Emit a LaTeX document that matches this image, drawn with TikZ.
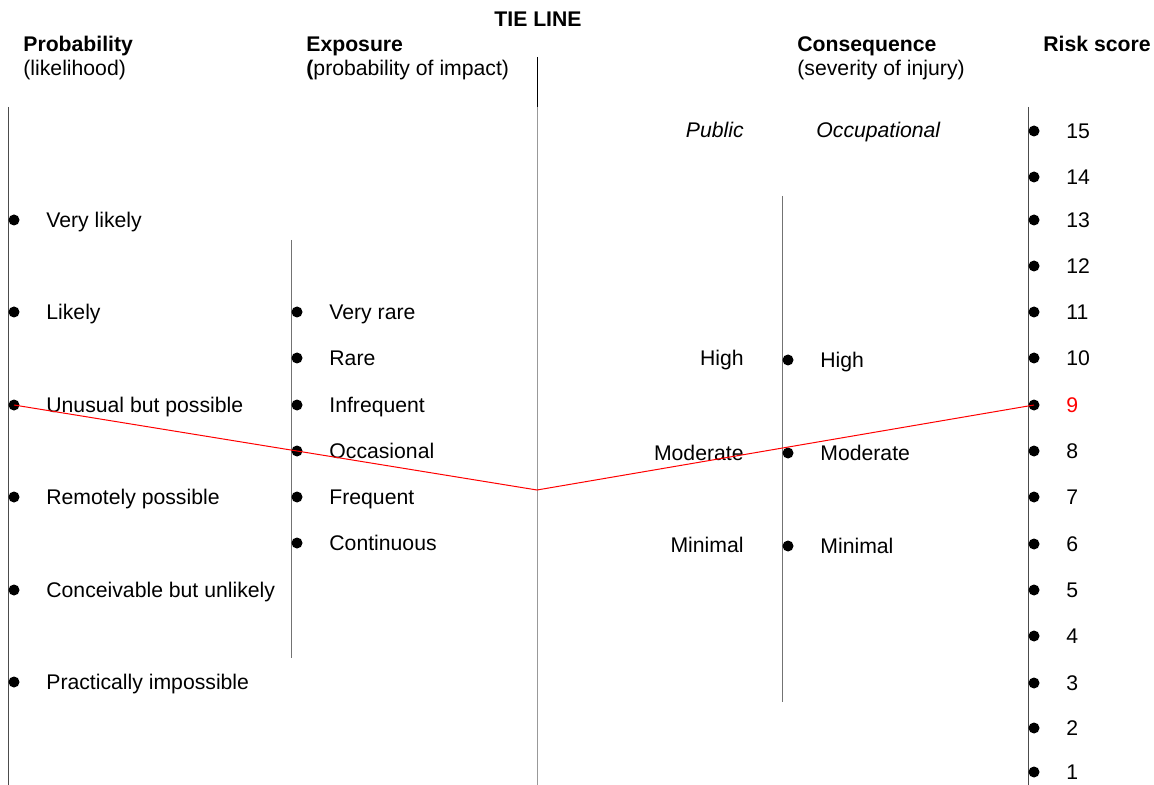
\documentclass[tikz,border=0pt]{standalone}
\usepackage{fontspec}
\setmainfont{Liberation Sans}
\usepackage{tikz}

\begin{document}
\begin{tikzpicture}[x=0.5pt, y=-0.5pt,
  every node/.style={font=\fontsize{10.6}{12.7}\selectfont, inner sep=0pt},
  lbl/.style={anchor=west, text height=7.6pt, text depth=0pt},
  rlbl/.style={anchor=east, text height=7.6pt, text depth=0pt},
  head/.style={anchor=base west, font=\fontsize{10.6}{12.7}\selectfont\bfseries},
  sub/.style={anchor=base west},
  dot/.style={circle, fill=black, inner sep=0pt, minimum size=5.5pt},
  axis/.style={draw=black!70, line width=0.5pt},
  faint/.style={draw=black!55, line width=0.5pt},
  tie/.style={draw=red, line width=0.5pt}]
\useasboundingbox (0,0) rectangle (1154,785);

% headings
\node[head, anchor=base] (tiehead) at (538,27) {TIE LINE};
\node[head] (probhead) at (23,52) {Probability};
\node[sub] (probsub) at (23,76) {(likelihood)};
\node[head] (exphead) at (306,52) {Exposure};
\node[sub] (expsub) at (306,76) {\textbf{(}probability of impact)};
\node[head] (conhead) at (797,52) {Consequence};
\node[sub] (consub) at (797,76) {(severity of injury)};
\node[head] (riskhead) at (1043,52) {Risk score};

% scales
\draw[axis] (8,107) -- (8,785);
\draw[faint] (291,240) -- (291,658);
\draw[black, line width=0.5pt] (537,57) -- (537,107);
\draw[draw=black!40, line width=0.5pt] (537,107) -- (537,785);
\draw[faint] (782,196) -- (782,702);
\draw[axis] (1028,107) -- (1028,785);

% probability
\node[dot] (vlikely) at (14,220) {};
\node[lbl] at (46,220) {Very likely};
\node[dot] (likely) at (14,312) {};
\node[lbl] at (46,312) {Likely};
\node[dot] (unusual) at (14,405) {};
\node[lbl] at (46,405) {Unusual but possible};
\node[dot] (remote) at (14,497) {};
\node[lbl] at (46,497) {Remotely possible};
\node[dot] (conceiv) at (14,590) {};
\node[lbl] at (46,590) {Conceivable but unlikely};
\node[dot] (practic) at (14,682) {};
\node[lbl] at (46,682) {Practically impossible};

% exposure
\node[dot] (vrare) at (297,312) {};
\node[lbl] at (329,312) {Very rare};
\node[dot] (rare) at (297,358) {};
\node[lbl] at (329,358) {Rare};
\node[dot] (infreq) at (297,405) {};
\node[lbl] at (329,405) {Infrequent};
\node[dot] (occas) at (297,451) {};
\node[lbl] at (329,451) {Occasional};
\node[dot] (freq) at (297,497) {};
\node[lbl] at (329,497) {Frequent};
\node[dot] (contin) at (297,543) {};
\node[lbl] at (329,543) {Continuous};

% consequence
\node[rlbl, font=\fontsize{10.6}{12.7}\selectfont\itshape] at (744,130) {Public};
\node[lbl, font=\fontsize{10.6}{12.7}\selectfont\itshape] at (816,130) {Occupational};
\node[rlbl] at (744,358) {High};
\node[rlbl] at (744,453) {Moderate};
\node[rlbl] at (744,545) {Minimal};
\node[dot] (ohigh) at (788,360) {};
\node[lbl] at (820,360) {High};
\node[dot] (omod) at (788,453) {};
\node[lbl] at (820,453) {Moderate};
\node[dot] (omin) at (788,546) {};
\node[lbl] at (820,546) {Minimal};

% risk score
\node[dot] (r15) at (1034,131) {};
\node[lbl] at (1066,131) {15};
\node[dot] (r14) at (1034,177) {};
\node[lbl] at (1066,177) {14};
\node[dot] (r13) at (1034,220) {};
\node[lbl] at (1066,220) {13};
\node[dot] (r12) at (1034,266) {};
\node[lbl] at (1066,266) {12};
\node[dot] (r11) at (1034,312) {};
\node[lbl] at (1066,312) {11};
\node[dot] (r10) at (1034,358) {};
\node[lbl] at (1066,358) {10};
\node[dot] (r9) at (1034,405) {};
\node[lbl, red] at (1066,405) {9};
\node[dot] (r8) at (1034,451) {};
\node[lbl] at (1066,451) {8};
\node[dot] (r7) at (1034,497) {};
\node[lbl] at (1066,497) {7};
\node[dot] (r6) at (1034,544) {};
\node[lbl] at (1066,544) {6};
\node[dot] (r5) at (1034,590) {};
\node[lbl] at (1066,590) {5};
\node[dot] (r4) at (1034,636) {};
\node[lbl] at (1066,636) {4};
\node[dot] (r3) at (1034,683) {};
\node[lbl] at (1066,683) {3};
\node[dot] (r2) at (1034,728) {};
\node[lbl] at (1066,728) {2};
\node[dot] (r1) at (1034,772) {};
\node[lbl] at (1066,772) {1};

% worked example through the tie line
\coordinate (tiept) at (537,490);
\draw[tie] (unusual.center) -- (occas.center) -- (tiept) -- (r9.center);
\end{tikzpicture}
\end{document}
